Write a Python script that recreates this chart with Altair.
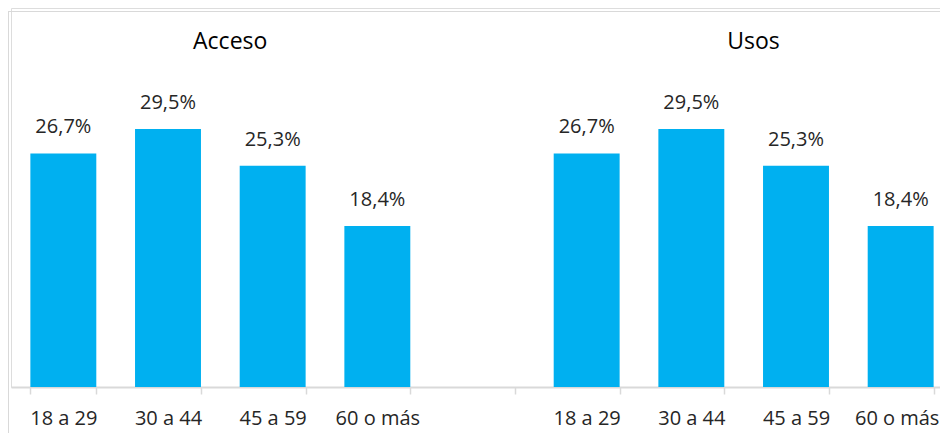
import altair as alt
import pandas as pd

groups = ["Acceso", "Usos"]
ages = ["18 a 29", "30 a 44", "45 a 59", "60 o más"]
acceso = [26.7, 29.5, 25.3, 18.4]
usos = [26.7, 29.5, 25.3, 18.4]

rows = []
for g, vals in zip(groups, [acceso, usos]):
    for a, v in zip(ages, vals):
        rows.append({"key": f"{g}|{a}", "grupo": g, "edad": a, "valor": v})
df = pd.DataFrame(rows)

domain = [f"Acceso|{a}" for a in ages] + ["gap|"] + [f"Usos|{a}" for a in ages]
last_key = domain[-1]

titles = pd.DataFrame({"key": [f"Acceso|{ages[2]}", f"Usos|{ages[2]}"], "titulo": groups})

FONT = "Open Sans"
TXT = "#262626"
BLUE = "#00B0F0"
GRID = "#D9D9D9"

xscale = alt.Scale(domain=domain, range=[0, 942], paddingInner=0.37, paddingOuter=0.185)
yscale = alt.Scale(domain=[0, 43.33], nice=False, zero=True)

xaxis = alt.Axis(
    title=None,
    labelExpr="split(datum.value, '|')[1]",
    tickBand="extent",
    domainColor=GRID, domainWidth=2,
    tickColor=GRID, tickWidth=1.5, tickSize=7,
    labelFont=FONT, labelFontSize=20, labelColor=TXT, labelPadding=14,
    labelOffset={"condition": {"test": f"datum.value == '{last_key}'", "value": -4}, "value": 0},
    labelAngle=0, grid=False,
)

bars = alt.Chart(df).mark_bar(color=BLUE).encode(
    x=alt.X("key:N", scale=xscale, axis=xaxis, sort=domain),
    y=alt.Y("valor:Q", scale=yscale, axis=None),
)

labels = alt.Chart(df).transform_calculate(
    lab="replace(format(datum.valor, '.1f'), '.', ',') + '%'"
).mark_text(font=FONT, fontSize=20, color=TXT, baseline="alphabetic", dy=-20).encode(
    x=alt.X("key:N", scale=xscale, sort=domain),
    y=alt.Y("valor:Q", scale=yscale),
    text="lab:N",
)

heads = alt.Chart(titles).mark_text(font=FONT, fontSize=23, color="#000000", baseline="alphabetic", dx=-9.5).encode(
    x=alt.X("key:N", scale=xscale, sort=domain, bandPosition=0),
    y=alt.value(41),
    text="titulo:N",
)

border_top = alt.Chart(pd.DataFrame({"a": [0]})).mark_rule(color=GRID, strokeWidth=1).encode(
    x=alt.value(-3), x2=alt.value(1000), y=alt.value(3.5)
)
border_left = alt.Chart(pd.DataFrame({"a": [0]})).mark_rule(color=GRID, strokeWidth=1).encode(
    x=alt.value(-2.5), y=alt.value(3), y2=alt.value(460)
)

chart = alt.layer(border_top, border_left, bars, labels, heads).properties(
    width=929, height=379,
    autosize=alt.AutoSizeParams(type="none"),
    padding={"left": 3, "top": 0, "right": 0, "bottom": 46},
).configure_view(stroke=None).configure(background="white")

chart.save("out.html", embed_options={"renderer": "svg", "actions": False})
